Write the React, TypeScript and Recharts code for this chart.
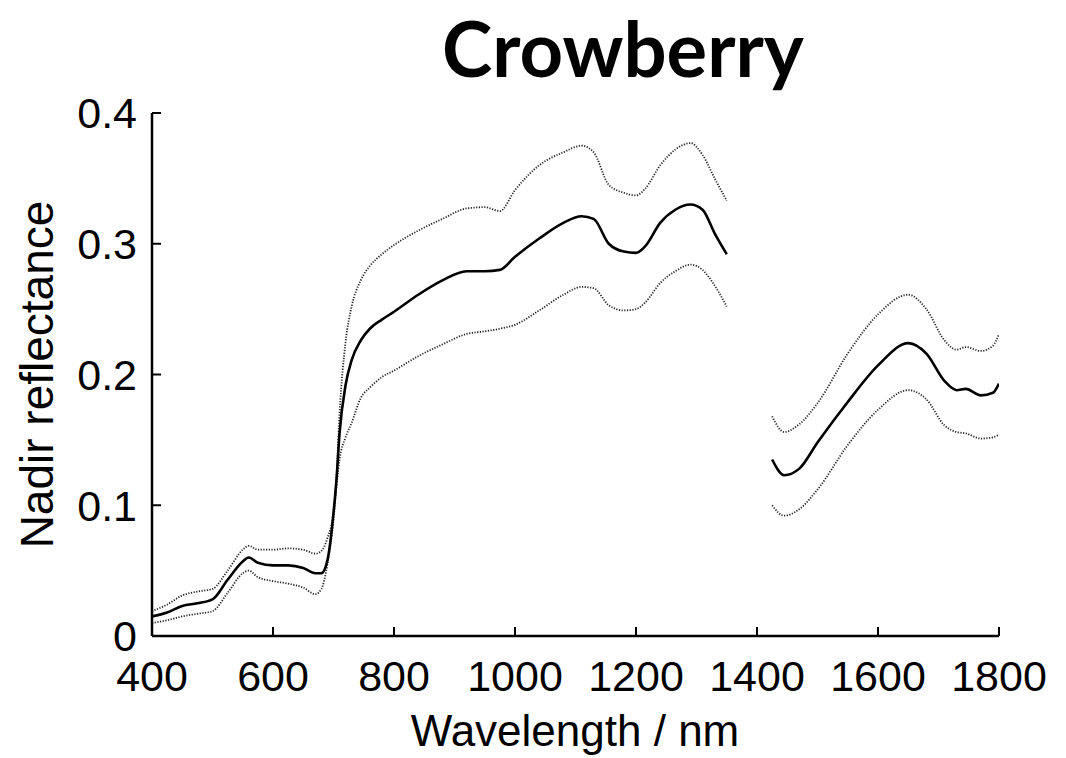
import { LineChart, Line, XAxis, YAxis, Label } from 'recharts';

// wavelength grid (nm); 1390 is the water-band gap, left empty
const wavelengths = [
  400, 425, 450, 475, 500, 525, 550, 560, 575, 600, 625, 650, 670, 680, 690, 700, 705, 710, 720, 730,
  745, 760, 780, 800, 840, 880, 920, 950, 975, 1000, 1040, 1080, 1110, 1130, 1155, 1180, 1200, 1215,
  1240, 1265, 1290, 1310, 1330, 1350, 1390, 1425, 1445, 1470, 1500, 1550, 1600, 1650, 1680, 1710,
  1730, 1745, 1770, 1790, 1800,
];

const meanRefl = [
  0.015, 0.018, 0.023, 0.025, 0.028, 0.043, 0.057, 0.06, 0.056, 0.054, 0.054, 0.052, 0.048, 0.048,
  0.058, 0.094, 0.12, 0.155, 0.192, 0.211, 0.226, 0.235, 0.242, 0.248, 0.261, 0.272, 0.279, 0.279,
  0.28, 0.29, 0.304, 0.316, 0.321, 0.319, 0.3, 0.294, 0.293, 0.298, 0.316, 0.326, 0.33, 0.326, 0.308,
  0.292, null, 0.135, 0.123, 0.128, 0.148, 0.179, 0.207, 0.224, 0.216, 0.195, 0.188, 0.189, 0.184,
  0.186, 0.193,
];

const upperRefl = [
  0.019, 0.024, 0.031, 0.034, 0.036, 0.05, 0.066, 0.069, 0.066, 0.066, 0.067, 0.066, 0.063, 0.065,
  0.075, 0.095, 0.122, 0.17, 0.225, 0.252, 0.272, 0.283, 0.292, 0.299, 0.31, 0.319, 0.327, 0.328,
  0.325, 0.341, 0.36, 0.37, 0.375, 0.37, 0.345, 0.339, 0.337, 0.342, 0.36, 0.372, 0.377, 0.368, 0.35,
  0.333, null, 0.168, 0.156, 0.162, 0.178, 0.216, 0.246, 0.261, 0.25, 0.226, 0.219, 0.221, 0.218,
  0.222, 0.231,
];

const lowerRefl = [
  0.01, 0.012, 0.015, 0.017, 0.019, 0.033, 0.048, 0.05, 0.045, 0.042, 0.04, 0.037, 0.032, 0.036,
  0.055, 0.089, 0.115, 0.135, 0.152, 0.163, 0.182, 0.19, 0.198, 0.203, 0.214, 0.223, 0.231, 0.233,
  0.235, 0.238, 0.249, 0.261, 0.267, 0.266, 0.253, 0.249, 0.25, 0.255, 0.27, 0.279, 0.284, 0.28,
  0.268, 0.252, null, 0.1, 0.092, 0.097, 0.112, 0.146, 0.173, 0.188, 0.181, 0.161, 0.156, 0.155,
  0.151, 0.152, 0.154,
];

const xTicks = [400, 600, 800, 1000, 1200, 1400, 1600, 1800];
const yTicks = [0, 0.1, 0.2, 0.3, 0.4];

const data = wavelengths.map((w, i) => ({
  w,
  mean: meanRefl[i],
  upper: upperRefl[i],
  lower: lowerRefl[i],
}));

const FONT = '"Liberation Sans", Arial, Helvetica, sans-serif';

export default function App() {
  return (
    <div style={{ position: 'absolute', left: 0, top: 0, width: 1066, height: 758, background: '#fff' }}>
      <div
        style={{
          position: 'absolute',
          left: 623,
          top: 10,
          transform: 'translateX(-50%)',
          fontFamily: 'Lato, "Liberation Sans", sans-serif',
          fontWeight: 'bold',
          fontSize: 76,
          lineHeight: '76px',
          whiteSpace: 'nowrap',
          color: '#000',
        }}
      >
        Crowberry
      </div>
      <LineChart
        width={1066}
        height={758}
        data={data}
        margin={{ top: 113, right: 67, bottom: 62, left: 72 }}
        style={{ fontFamily: FONT }}
      >
        <XAxis
          dataKey="w"
          type="number"
          domain={[400, 1800]}
          ticks={xTicks}
          allowDataOverflow
          height={60}
          axisLine={{ stroke: '#000', strokeWidth: 2.5 }}
          tickLine={{ stroke: '#000', strokeWidth: 2 }}
          tickSize={-9}
          tickMargin={33}
          tick={{ fill: '#000', fontSize: 43 }}
        >
          <Label
            content={({ viewBox }: any) => (
              <text
                x={575}
                y={viewBox.y + 110}
                textAnchor="middle"
                fontSize={44}
                fill="#000"
                fontFamily={FONT}
              >
                Wavelength / nm
              </text>
            )}
          />
        </XAxis>
        <YAxis
          type="number"
          domain={[0, 0.4]}
          ticks={yTicks}
          allowDataOverflow
          width={80}
          axisLine={{ stroke: '#000', strokeWidth: 2.5 }}
          tickLine={{ stroke: '#000', strokeWidth: 2 }}
          tickSize={-9}
          tickMargin={24}
          tickFormatter={(v: number) => String(v)}
          tick={{ fill: '#000', fontSize: 43 }}
        >
          <Label
            content={({ viewBox }: any) => (
              <text
                x={53}
                y={viewBox.y + viewBox.height / 2}
                textAnchor="middle"
                fontSize={46}
                fill="#000"
                fontFamily={FONT}
                transform={`rotate(-90 53 ${viewBox.y + viewBox.height / 2})`}
              >
                Nadir reflectance
              </text>
            )}
          />
        </YAxis>
        <Line
          type="monotone"
          dataKey="upper"
          stroke="#222"
          strokeWidth={1.8}
          strokeDasharray="1.2 1.5"
          dot={false}
          activeDot={false}
          isAnimationActive={false}
        />
        <Line
          type="monotone"
          dataKey="lower"
          stroke="#222"
          strokeWidth={1.8}
          strokeDasharray="1.2 1.5"
          dot={false}
          activeDot={false}
          isAnimationActive={false}
        />
        <Line
          type="monotone"
          dataKey="mean"
          stroke="#000"
          strokeWidth={2.6}
          dot={false}
          activeDot={false}
          isAnimationActive={false}
        />
      </LineChart>
    </div>
  );
}
